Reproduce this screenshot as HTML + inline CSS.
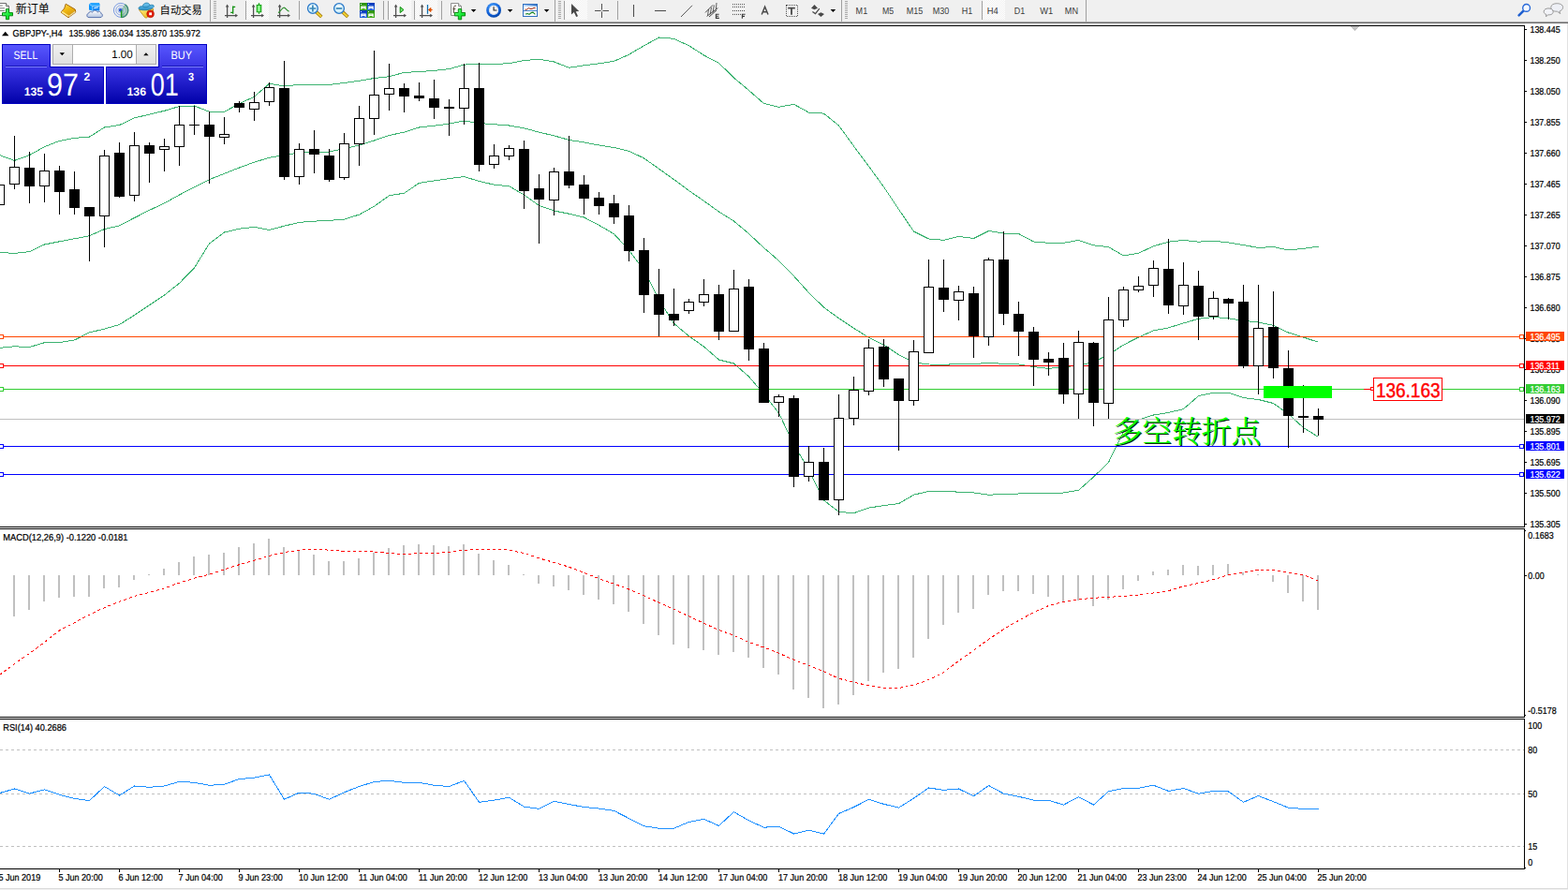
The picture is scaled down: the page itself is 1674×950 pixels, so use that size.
<!DOCTYPE html>
<html><head><meta charset="utf-8"><title>GBPJPY-,H4</title>
<style>
html,body{margin:0;padding:0;background:#fff}
body{width:1674px;height:950px;overflow:hidden;position:relative;font-family:"Liberation Sans",sans-serif;color:#000}
svg{position:absolute;left:0;top:0}
</style></head><body>

<svg width="1674" height="950" viewBox="0 0 1674 950" shape-rendering="crispEdges">
<rect x="0" y="0" width="1674" height="22" fill="#f0f0f0"/>
<rect x="0" y="22" width="1674" height="1" fill="#eeeeee"/>
<rect x="0" y="23" width="1674" height="1" fill="#a8a8a8"/>
<rect x="0" y="24" width="1674" height="1" fill="#696969"/>
<rect x="0" y="25" width="1674" height="2" fill="#ffffff"/>
<rect x="0" y="27" width="1628" height="1" fill="#000"/>
<rect x="1627" y="27" width="1" height="536" fill="#000"/>
<rect x="1627" y="564" width="1" height="202" fill="#000"/>
<rect x="1627" y="767" width="1" height="161" fill="#000"/>
<rect x="0" y="562" width="1628" height="1" fill="#000"/>
<rect x="0" y="564" width="1628" height="1" fill="#000"/>
<rect x="0" y="765" width="1628" height="1" fill="#000"/>
<rect x="0" y="767" width="1628" height="1" fill="#000"/>
<rect x="0" y="927" width="1628" height="1" fill="#000"/>
<rect x="1673" y="25" width="1" height="925" fill="#e2e2e2"/>
<rect x="0" y="948" width="1674" height="1" fill="#dadada"/>
<rect x="0" y="949" width="1674" height="1" fill="#f0f0f0"/>
<rect x="1628" y="926" width="1" height="1" fill="#000"/>
<polyline points="-0.5,165.6 15.5,171.4 31.5,165.6 47.5,156.7 63.5,150.4 79.5,147.4 95.5,146.1 111.5,136.0 127.5,133.5 143.5,125.9 159.5,122.1 175.5,118.3 191.5,113.5 207.5,113.0 223.5,119.3 239.5,119.3 255.5,110.7 271.5,103.2 287.5,89.3 303.5,91.8 319.5,90.5 335.5,90.5 351.5,90.5 367.5,88.5 383.5,86.2 399.5,83.5 415.5,81.7 431.5,77.4 447.5,76.6 463.5,75.4 479.5,73.6 495.5,69.1 511.5,68.3 527.5,68.3 543.5,67.8 559.5,64.5 575.5,63.2 591.5,66.0 607.5,72.3 623.5,69.8 639.5,67.8 655.5,65.3 671.5,58.2 687.5,48.8 703.5,40.0 719.5,41.3 735.5,48.8 751.5,59.0 767.5,67.3 783.5,83.0 799.5,96.5 815.5,110.5 831.5,114.3 847.5,111.3 863.5,120.1 879.5,121.1 895.5,134.0 911.5,156.0 927.5,177.5 943.5,199.5 959.5,223.5 975.5,247.0 991.5,255.0 1007.5,256.3 1023.5,252.5 1039.5,254.5 1055.5,246.5 1071.5,249.0 1087.5,249.5 1103.5,258.0 1119.5,259.3 1135.5,259.3 1151.5,256.4 1167.5,261.8 1183.5,263.7 1199.5,272.8 1215.5,270.3 1231.5,262.7 1247.5,258.2 1263.5,256.4 1279.5,258.2 1295.5,257.2 1311.5,258.9 1327.5,261.5 1343.5,264.5 1359.5,263.5 1375.5,267.0 1391.5,265.3 1407.5,263.2" fill="none" stroke="#3cb371" stroke-width="1" />
<polyline points="-0.5,269.4 15.5,270.4 31.5,268.6 47.5,261.0 63.5,257.8 79.5,254.8 95.5,251.7 111.5,244.6 127.5,240.9 143.5,232.5 159.5,224.4 175.5,216.9 191.5,208.0 207.5,199.7 223.5,191.6 239.5,185.3 255.5,179.0 271.5,173.1 287.5,168.3 303.5,165.6 319.5,163.0 335.5,162.0 351.5,162.0 367.5,158.7 383.5,155.0 399.5,150.0 415.5,144.5 431.5,141.1 447.5,136.0 463.5,134.2 479.5,132.2 495.5,128.9 511.5,131.5 527.5,132.7 543.5,134.0 559.5,136.8 575.5,141.1 591.5,144.9 607.5,149.4 623.5,151.9 639.5,155.0 655.5,157.5 671.5,161.3 687.5,168.9 703.5,180.2 719.5,191.6 735.5,203.5 751.5,214.5 767.5,226.0 783.5,236.0 799.5,249.5 815.5,264.5 831.5,278.3 847.5,294.7 863.5,312.4 879.5,328.1 895.5,339.7 911.5,350.3 927.5,360.4 943.5,368.0 959.5,378.6 975.5,387.0 991.5,389.0 1007.5,389.2 1023.5,388.7 1039.5,388.5 1055.5,387.5 1071.5,388.3 1087.5,389.0 1103.5,391.6 1119.5,393.4 1135.5,391.6 1151.5,390.3 1167.5,386.5 1183.5,378.5 1199.5,368.1 1215.5,360.0 1231.5,352.9 1247.5,349.9 1263.5,344.9 1279.5,340.3 1295.5,338.5 1311.5,339.8 1327.5,342.3 1343.5,344.1 1359.5,347.4 1375.5,355.0 1391.5,360.0 1407.5,365.3" fill="none" stroke="#3cb371" stroke-width="1" />
<polyline points="-0.5,371.3 15.5,369.8 31.5,370.5 47.5,365.7 63.5,365.5 79.5,363.0 95.5,354.9 111.5,351.1 127.5,346.5 143.5,336.4 159.5,325.6 175.5,315.0 191.5,302.3 207.5,285.9 223.5,259.9 239.5,248.0 255.5,244.2 271.5,242.4 287.5,245.5 303.5,241.2 319.5,237.4 335.5,236.1 351.5,235.4 367.5,234.1 383.5,229.1 399.5,220.2 415.5,208.8 431.5,206.2 447.5,195.4 463.5,192.9 479.5,190.6 495.5,188.6 511.5,193.4 527.5,197.2 543.5,198.7 559.5,208.0 575.5,219.4 591.5,225.0 607.5,228.2 623.5,232.0 639.5,240.4 655.5,249.7 671.5,267.0 687.5,288.4 703.5,320.0 719.5,345.2 735.5,358.8 751.5,370.0 767.5,384.0 783.5,388.0 799.5,402.0 815.5,420.6 831.5,441.0 847.5,474.7 863.5,501.5 879.5,534.0 895.5,546.4 911.5,547.7 927.5,542.1 943.5,539.6 959.5,537.6 975.5,528.2 991.5,524.4 1007.5,524.2 1023.5,525.2 1039.5,526.0 1055.5,528.2 1071.5,527.5 1087.5,527.0 1103.5,526.5 1119.5,527.0 1135.5,526.0 1151.5,523.3 1167.5,509.1 1183.5,493.5 1199.5,460.6 1215.5,448.0 1231.5,443.0 1247.5,440.4 1263.5,436.6 1279.5,422.6 1295.5,419.2 1311.5,419.2 1327.5,424.6 1343.5,426.5 1359.5,430.5 1375.5,441.9 1391.5,456.5 1407.5,466.4" fill="none" stroke="#3cb371" stroke-width="1" />
<rect x="0" y="359" width="1627" height="1" fill="#ff4500"/>
<rect x="0" y="390" width="1627" height="1" fill="#ff0000"/>
<rect x="0" y="415" width="1627" height="1" fill="#32cd32"/>
<rect x="0" y="447" width="1627" height="1" fill="#c0c0c0"/>
<rect x="0" y="476" width="1627" height="1" fill="#0000ff"/>
<rect x="0" y="506" width="1627" height="1" fill="#0000ff"/>
<rect x="-0.5" y="357.5" width="4" height="4" fill="#fff" stroke="#ff4500"/>
<rect x="1622.5" y="357.5" width="4" height="4" fill="#fff" stroke="#ff4500"/>
<rect x="-0.5" y="388.5" width="4" height="4" fill="#fff" stroke="#ff0000"/>
<rect x="1622.5" y="388.5" width="4" height="4" fill="#fff" stroke="#ff0000"/>
<rect x="-0.5" y="413.5" width="4" height="4" fill="#fff" stroke="#32cd32"/>
<rect x="1622.5" y="413.5" width="4" height="4" fill="#fff" stroke="#32cd32"/>
<rect x="-0.5" y="474.5" width="4" height="4" fill="#fff" stroke="#0000ff"/>
<rect x="1622.5" y="474.5" width="4" height="4" fill="#fff" stroke="#0000ff"/>
<rect x="-0.5" y="504.5" width="4" height="4" fill="#fff" stroke="#0000ff"/>
<rect x="1622.5" y="504.5" width="4" height="4" fill="#fff" stroke="#0000ff"/>
<rect x="-5.5" y="197.5" width="10" height="21" fill="#fff" stroke="#000"/>
<rect x="15" y="145" width="1" height="57" fill="#000"/>
<rect x="10.5" y="178.5" width="10" height="18" fill="#fff" stroke="#000"/>
<rect x="31" y="162" width="1" height="55" fill="#000"/>
<rect x="26" y="179" width="11" height="20" fill="#000"/>
<rect x="47" y="164" width="1" height="52" fill="#000"/>
<rect x="42.5" y="182.5" width="10" height="16" fill="#fff" stroke="#000"/>
<rect x="63" y="177" width="1" height="52" fill="#000"/>
<rect x="58" y="182" width="11" height="23" fill="#000"/>
<rect x="79" y="183" width="1" height="46" fill="#000"/>
<rect x="74" y="202" width="11" height="20" fill="#000"/>
<rect x="95" y="221" width="1" height="58" fill="#000"/>
<rect x="90" y="221" width="11" height="10" fill="#000"/>
<rect x="111" y="160" width="1" height="104" fill="#000"/>
<rect x="106.5" y="166.5" width="10" height="64" fill="#fff" stroke="#000"/>
<rect x="127" y="152" width="1" height="59" fill="#000"/>
<rect x="122" y="163" width="11" height="47" fill="#000"/>
<rect x="143" y="141" width="1" height="74" fill="#000"/>
<rect x="138.5" y="155.5" width="10" height="53" fill="#fff" stroke="#000"/>
<rect x="159" y="152" width="1" height="43" fill="#000"/>
<rect x="154" y="155" width="11" height="9" fill="#000"/>
<rect x="175" y="148" width="1" height="35" fill="#000"/>
<rect x="170.5" y="156.5" width="10" height="3" fill="#fff" stroke="#000"/>
<rect x="191" y="113" width="1" height="64" fill="#000"/>
<rect x="186.5" y="133.5" width="10" height="23" fill="#fff" stroke="#000"/>
<rect x="207" y="113" width="1" height="31" fill="#000"/>
<rect x="202" y="133" width="11" height="1" fill="#000"/>
<rect x="223" y="119" width="1" height="77" fill="#000"/>
<rect x="218" y="133" width="11" height="13" fill="#000"/>
<rect x="239" y="125" width="1" height="29" fill="#000"/>
<rect x="234.5" y="143.5" width="10" height="3" fill="#fff" stroke="#000"/>
<rect x="255" y="108" width="1" height="12" fill="#000"/>
<rect x="250" y="110" width="11" height="5" fill="#000"/>
<rect x="271" y="98" width="1" height="31" fill="#000"/>
<rect x="266.5" y="109.5" width="10" height="7" fill="#fff" stroke="#000"/>
<rect x="287" y="88" width="1" height="25" fill="#000"/>
<rect x="282.5" y="93.5" width="10" height="15" fill="#fff" stroke="#000"/>
<rect x="303" y="65" width="1" height="127" fill="#000"/>
<rect x="298" y="94" width="11" height="95" fill="#000"/>
<rect x="319" y="153" width="1" height="44" fill="#000"/>
<rect x="314.5" y="159.5" width="10" height="29" fill="#fff" stroke="#000"/>
<rect x="335" y="139" width="1" height="46" fill="#000"/>
<rect x="330" y="159" width="11" height="6" fill="#000"/>
<rect x="351" y="159" width="1" height="35" fill="#000"/>
<rect x="346" y="166" width="11" height="26" fill="#000"/>
<rect x="367" y="142" width="1" height="50" fill="#000"/>
<rect x="362.5" y="153.5" width="10" height="36" fill="#fff" stroke="#000"/>
<rect x="383" y="113" width="1" height="64" fill="#000"/>
<rect x="378.5" y="126.5" width="10" height="27" fill="#fff" stroke="#000"/>
<rect x="399" y="54" width="1" height="90" fill="#000"/>
<rect x="394.5" y="101.5" width="10" height="25" fill="#fff" stroke="#000"/>
<rect x="415" y="68" width="1" height="50" fill="#000"/>
<rect x="410.5" y="94.5" width="10" height="6" fill="#fff" stroke="#000"/>
<rect x="431" y="89" width="1" height="31" fill="#000"/>
<rect x="426" y="94" width="11" height="9" fill="#000"/>
<rect x="447" y="88" width="1" height="20" fill="#000"/>
<rect x="442" y="102" width="11" height="3" fill="#000"/>
<rect x="463" y="85" width="1" height="42" fill="#000"/>
<rect x="458" y="105" width="11" height="10" fill="#000"/>
<rect x="479" y="106" width="1" height="39" fill="#000"/>
<rect x="474" y="114" width="11" height="2" fill="#000"/>
<rect x="495" y="68" width="1" height="65" fill="#000"/>
<rect x="490.5" y="94.5" width="10" height="21" fill="#fff" stroke="#000"/>
<rect x="511" y="67" width="1" height="116" fill="#000"/>
<rect x="506" y="94" width="11" height="82" fill="#000"/>
<rect x="527" y="154" width="1" height="26" fill="#000"/>
<rect x="522.5" y="166.5" width="10" height="9" fill="#fff" stroke="#000"/>
<rect x="543" y="155" width="1" height="16" fill="#000"/>
<rect x="538.5" y="158.5" width="10" height="8" fill="#fff" stroke="#000"/>
<rect x="559" y="150" width="1" height="73" fill="#000"/>
<rect x="554" y="159" width="11" height="45" fill="#000"/>
<rect x="575" y="186" width="1" height="74" fill="#000"/>
<rect x="570" y="201" width="11" height="12" fill="#000"/>
<rect x="591" y="179" width="1" height="51" fill="#000"/>
<rect x="586.5" y="183.5" width="10" height="30" fill="#fff" stroke="#000"/>
<rect x="607" y="145" width="1" height="56" fill="#000"/>
<rect x="602" y="183" width="11" height="15" fill="#000"/>
<rect x="623" y="187" width="1" height="42" fill="#000"/>
<rect x="618" y="197" width="11" height="15" fill="#000"/>
<rect x="639" y="205" width="1" height="24" fill="#000"/>
<rect x="634" y="211" width="11" height="9" fill="#000"/>
<rect x="655" y="208" width="1" height="31" fill="#000"/>
<rect x="650" y="217" width="11" height="15" fill="#000"/>
<rect x="671" y="219" width="1" height="60" fill="#000"/>
<rect x="666" y="230" width="11" height="38" fill="#000"/>
<rect x="687" y="254" width="1" height="80" fill="#000"/>
<rect x="682" y="267" width="11" height="48" fill="#000"/>
<rect x="703" y="287" width="1" height="72" fill="#000"/>
<rect x="698" y="314" width="11" height="22" fill="#000"/>
<rect x="719" y="308" width="1" height="40" fill="#000"/>
<rect x="714" y="335" width="11" height="7" fill="#000"/>
<rect x="735" y="319" width="1" height="16" fill="#000"/>
<rect x="730.5" y="322.5" width="10" height="9" fill="#fff" stroke="#000"/>
<rect x="751" y="298" width="1" height="29" fill="#000"/>
<rect x="746.5" y="314.5" width="10" height="8" fill="#fff" stroke="#000"/>
<rect x="767" y="304" width="1" height="59" fill="#000"/>
<rect x="762" y="314" width="11" height="40" fill="#000"/>
<rect x="783" y="288" width="1" height="66" fill="#000"/>
<rect x="778.5" y="308.5" width="10" height="45" fill="#fff" stroke="#000"/>
<rect x="799" y="298" width="1" height="87" fill="#000"/>
<rect x="794" y="306" width="11" height="67" fill="#000"/>
<rect x="815" y="366" width="1" height="64" fill="#000"/>
<rect x="810" y="372" width="11" height="58" fill="#000"/>
<rect x="831" y="421" width="1" height="24" fill="#000"/>
<rect x="826.5" y="423.5" width="10" height="6" fill="#fff" stroke="#000"/>
<rect x="847" y="422" width="1" height="98" fill="#000"/>
<rect x="842" y="425" width="11" height="84" fill="#000"/>
<rect x="863" y="476" width="1" height="38" fill="#000"/>
<rect x="858.5" y="493.5" width="10" height="15" fill="#fff" stroke="#000"/>
<rect x="879" y="478" width="1" height="56" fill="#000"/>
<rect x="874" y="493" width="11" height="41" fill="#000"/>
<rect x="895" y="421" width="1" height="129" fill="#000"/>
<rect x="890.5" y="446.5" width="10" height="87" fill="#fff" stroke="#000"/>
<rect x="911" y="402" width="1" height="52" fill="#000"/>
<rect x="906.5" y="416.5" width="10" height="30" fill="#fff" stroke="#000"/>
<rect x="927" y="362" width="1" height="60" fill="#000"/>
<rect x="922.5" y="371.5" width="10" height="46" fill="#fff" stroke="#000"/>
<rect x="943" y="362" width="1" height="51" fill="#000"/>
<rect x="938" y="370" width="11" height="35" fill="#000"/>
<rect x="959" y="404" width="1" height="77" fill="#000"/>
<rect x="954" y="404" width="11" height="24" fill="#000"/>
<rect x="975" y="363" width="1" height="70" fill="#000"/>
<rect x="970.5" y="375.5" width="10" height="52" fill="#fff" stroke="#000"/>
<rect x="991" y="277" width="1" height="100" fill="#000"/>
<rect x="986.5" y="306.5" width="10" height="70" fill="#fff" stroke="#000"/>
<rect x="1007" y="277" width="1" height="56" fill="#000"/>
<rect x="1002" y="307" width="11" height="13" fill="#000"/>
<rect x="1023" y="305" width="1" height="37" fill="#000"/>
<rect x="1018.5" y="311.5" width="10" height="9" fill="#fff" stroke="#000"/>
<rect x="1039" y="306" width="1" height="76" fill="#000"/>
<rect x="1034" y="313" width="11" height="46" fill="#000"/>
<rect x="1055" y="275" width="1" height="94" fill="#000"/>
<rect x="1050.5" y="277.5" width="10" height="82" fill="#fff" stroke="#000"/>
<rect x="1071" y="247" width="1" height="100" fill="#000"/>
<rect x="1066" y="277" width="11" height="58" fill="#000"/>
<rect x="1087" y="322" width="1" height="58" fill="#000"/>
<rect x="1082" y="335" width="11" height="19" fill="#000"/>
<rect x="1103" y="349" width="1" height="63" fill="#000"/>
<rect x="1098" y="354" width="11" height="30" fill="#000"/>
<rect x="1119" y="376" width="1" height="25" fill="#000"/>
<rect x="1114" y="383" width="11" height="4" fill="#000"/>
<rect x="1135" y="366" width="1" height="65" fill="#000"/>
<rect x="1130" y="382" width="11" height="39" fill="#000"/>
<rect x="1151" y="353" width="1" height="94" fill="#000"/>
<rect x="1146.5" y="365.5" width="10" height="55" fill="#fff" stroke="#000"/>
<rect x="1167" y="365" width="1" height="90" fill="#000"/>
<rect x="1162" y="366" width="11" height="64" fill="#000"/>
<rect x="1183" y="317" width="1" height="130" fill="#000"/>
<rect x="1178.5" y="341.5" width="10" height="89" fill="#fff" stroke="#000"/>
<rect x="1199" y="306" width="1" height="43" fill="#000"/>
<rect x="1194.5" y="309.5" width="10" height="32" fill="#fff" stroke="#000"/>
<rect x="1215" y="295" width="1" height="17" fill="#000"/>
<rect x="1210.5" y="305.5" width="10" height="4" fill="#fff" stroke="#000"/>
<rect x="1231" y="278" width="1" height="39" fill="#000"/>
<rect x="1226.5" y="286.5" width="10" height="18" fill="#fff" stroke="#000"/>
<rect x="1247" y="255" width="1" height="80" fill="#000"/>
<rect x="1242" y="287" width="11" height="39" fill="#000"/>
<rect x="1263" y="280" width="1" height="56" fill="#000"/>
<rect x="1258.5" y="304.5" width="10" height="22" fill="#fff" stroke="#000"/>
<rect x="1279" y="289" width="1" height="74" fill="#000"/>
<rect x="1274" y="305" width="11" height="33" fill="#000"/>
<rect x="1295" y="311" width="1" height="30" fill="#000"/>
<rect x="1290.5" y="318.5" width="10" height="19" fill="#fff" stroke="#000"/>
<rect x="1311" y="318" width="1" height="23" fill="#000"/>
<rect x="1306" y="319" width="11" height="5" fill="#000"/>
<rect x="1327" y="304" width="1" height="89" fill="#000"/>
<rect x="1322" y="322" width="11" height="69" fill="#000"/>
<rect x="1343" y="304" width="1" height="117" fill="#000"/>
<rect x="1338.5" y="350.5" width="10" height="40" fill="#fff" stroke="#000"/>
<rect x="1359" y="311" width="1" height="93" fill="#000"/>
<rect x="1354" y="349" width="11" height="44" fill="#000"/>
<rect x="1375" y="374" width="1" height="104" fill="#000"/>
<rect x="1370" y="393" width="11" height="51" fill="#000"/>
<rect x="1391" y="411" width="1" height="51" fill="#000"/>
<rect x="1386" y="444" width="11" height="2" fill="#000"/>
<rect x="1407" y="436" width="1" height="29" fill="#000"/>
<rect x="1402" y="444" width="11" height="4" fill="#000"/>
<rect x="1442" y="28" width="9" height="1" fill="#c0c0c0"/>
<rect x="1443" y="29" width="7" height="1" fill="#c0c0c0"/>
<rect x="1444" y="30" width="5" height="1" fill="#c0c0c0"/>
<rect x="1445" y="31" width="3" height="1" fill="#c0c0c0"/>
<rect x="1446" y="32" width="1" height="1" fill="#c0c0c0"/>
<rect x="1349" y="412" width="73" height="13" fill="#00ff00"/>
<rect x="1456" y="415" width="8" height="1" fill="#ff0000"/>
<rect x="1463.5" y="413.5" width="3" height="3" fill="#fff" stroke="#ff0000"/>
<rect x="1466.5" y="403.5" width="73" height="24" fill="#fff" stroke="#ff0000"/>
<rect x="1628" y="31" width="2" height="1" fill="#000"/>
<rect x="1628" y="64" width="2" height="1" fill="#000"/>
<rect x="1628" y="97" width="2" height="1" fill="#000"/>
<rect x="1628" y="130" width="2" height="1" fill="#000"/>
<rect x="1628" y="163" width="2" height="1" fill="#000"/>
<rect x="1628" y="196" width="2" height="1" fill="#000"/>
<rect x="1628" y="229" width="2" height="1" fill="#000"/>
<rect x="1628" y="262" width="2" height="1" fill="#000"/>
<rect x="1628" y="295" width="2" height="1" fill="#000"/>
<rect x="1628" y="328" width="2" height="1" fill="#000"/>
<rect x="1628" y="361" width="2" height="1" fill="#000"/>
<rect x="1628" y="394" width="2" height="1" fill="#000"/>
<rect x="1628" y="427" width="2" height="1" fill="#000"/>
<rect x="1628" y="460" width="2" height="1" fill="#000"/>
<rect x="1628" y="493" width="2" height="1" fill="#000"/>
<rect x="1628" y="526" width="2" height="1" fill="#000"/>
<rect x="1628" y="559" width="2" height="1" fill="#000"/>
<rect x="14" y="614" width="2" height="44" fill="#c0c0c0"/>
<rect x="30" y="614" width="2" height="37" fill="#c0c0c0"/>
<rect x="46" y="614" width="2" height="28" fill="#c0c0c0"/>
<rect x="62" y="614" width="2" height="24" fill="#c0c0c0"/>
<rect x="78" y="614" width="2" height="23" fill="#c0c0c0"/>
<rect x="94" y="614" width="2" height="23" fill="#c0c0c0"/>
<rect x="110" y="614" width="2" height="14" fill="#c0c0c0"/>
<rect x="126" y="614" width="2" height="13" fill="#c0c0c0"/>
<rect x="142" y="614" width="2" height="5" fill="#c0c0c0"/>
<rect x="158" y="613" width="2" height="1" fill="#c0c0c0"/>
<rect x="174" y="607" width="2" height="7" fill="#c0c0c0"/>
<rect x="190" y="600" width="2" height="14" fill="#c0c0c0"/>
<rect x="206" y="594" width="2" height="20" fill="#c0c0c0"/>
<rect x="222" y="592" width="2" height="22" fill="#c0c0c0"/>
<rect x="238" y="590" width="2" height="24" fill="#c0c0c0"/>
<rect x="254" y="584" width="2" height="30" fill="#c0c0c0"/>
<rect x="270" y="580" width="2" height="34" fill="#c0c0c0"/>
<rect x="286" y="575" width="2" height="39" fill="#c0c0c0"/>
<rect x="302" y="584" width="2" height="30" fill="#c0c0c0"/>
<rect x="318" y="588" width="2" height="26" fill="#c0c0c0"/>
<rect x="334" y="592" width="2" height="22" fill="#c0c0c0"/>
<rect x="350" y="599" width="2" height="15" fill="#c0c0c0"/>
<rect x="366" y="599" width="2" height="15" fill="#c0c0c0"/>
<rect x="382" y="596" width="2" height="18" fill="#c0c0c0"/>
<rect x="398" y="590" width="2" height="24" fill="#c0c0c0"/>
<rect x="414" y="585" width="2" height="29" fill="#c0c0c0"/>
<rect x="430" y="582" width="2" height="32" fill="#c0c0c0"/>
<rect x="446" y="581" width="2" height="33" fill="#c0c0c0"/>
<rect x="462" y="582" width="2" height="32" fill="#c0c0c0"/>
<rect x="478" y="583" width="2" height="31" fill="#c0c0c0"/>
<rect x="494" y="581" width="2" height="33" fill="#c0c0c0"/>
<rect x="510" y="591" width="2" height="23" fill="#c0c0c0"/>
<rect x="526" y="598" width="2" height="16" fill="#c0c0c0"/>
<rect x="542" y="603" width="2" height="11" fill="#c0c0c0"/>
<rect x="558" y="613" width="2" height="1" fill="#c0c0c0"/>
<rect x="574" y="614" width="2" height="9" fill="#c0c0c0"/>
<rect x="590" y="614" width="2" height="12" fill="#c0c0c0"/>
<rect x="606" y="614" width="2" height="16" fill="#c0c0c0"/>
<rect x="622" y="614" width="2" height="21" fill="#c0c0c0"/>
<rect x="638" y="614" width="2" height="26" fill="#c0c0c0"/>
<rect x="654" y="614" width="2" height="31" fill="#c0c0c0"/>
<rect x="670" y="614" width="2" height="39" fill="#c0c0c0"/>
<rect x="686" y="614" width="2" height="52" fill="#c0c0c0"/>
<rect x="702" y="614" width="2" height="64" fill="#c0c0c0"/>
<rect x="718" y="614" width="2" height="74" fill="#c0c0c0"/>
<rect x="734" y="614" width="2" height="78" fill="#c0c0c0"/>
<rect x="750" y="614" width="2" height="80" fill="#c0c0c0"/>
<rect x="766" y="614" width="2" height="85" fill="#c0c0c0"/>
<rect x="782" y="614" width="2" height="82" fill="#c0c0c0"/>
<rect x="798" y="614" width="2" height="88" fill="#c0c0c0"/>
<rect x="814" y="614" width="2" height="99" fill="#c0c0c0"/>
<rect x="830" y="614" width="2" height="106" fill="#c0c0c0"/>
<rect x="846" y="614" width="2" height="122" fill="#c0c0c0"/>
<rect x="862" y="614" width="2" height="131" fill="#c0c0c0"/>
<rect x="878" y="614" width="2" height="142" fill="#c0c0c0"/>
<rect x="894" y="614" width="2" height="138" fill="#c0c0c0"/>
<rect x="910" y="614" width="2" height="128" fill="#c0c0c0"/>
<rect x="926" y="614" width="2" height="113" fill="#c0c0c0"/>
<rect x="942" y="614" width="2" height="104" fill="#c0c0c0"/>
<rect x="958" y="614" width="2" height="100" fill="#c0c0c0"/>
<rect x="974" y="614" width="2" height="88" fill="#c0c0c0"/>
<rect x="990" y="614" width="2" height="68" fill="#c0c0c0"/>
<rect x="1006" y="614" width="2" height="53" fill="#c0c0c0"/>
<rect x="1022" y="614" width="2" height="40" fill="#c0c0c0"/>
<rect x="1038" y="614" width="2" height="36" fill="#c0c0c0"/>
<rect x="1054" y="614" width="2" height="21" fill="#c0c0c0"/>
<rect x="1070" y="614" width="2" height="17" fill="#c0c0c0"/>
<rect x="1086" y="614" width="2" height="17" fill="#c0c0c0"/>
<rect x="1102" y="614" width="2" height="20" fill="#c0c0c0"/>
<rect x="1118" y="614" width="2" height="23" fill="#c0c0c0"/>
<rect x="1134" y="614" width="2" height="28" fill="#c0c0c0"/>
<rect x="1150" y="614" width="2" height="27" fill="#c0c0c0"/>
<rect x="1166" y="614" width="2" height="33" fill="#c0c0c0"/>
<rect x="1182" y="614" width="2" height="26" fill="#c0c0c0"/>
<rect x="1198" y="614" width="2" height="15" fill="#c0c0c0"/>
<rect x="1214" y="614" width="2" height="6" fill="#c0c0c0"/>
<rect x="1230" y="610" width="2" height="4" fill="#c0c0c0"/>
<rect x="1246" y="608" width="2" height="6" fill="#c0c0c0"/>
<rect x="1262" y="603" width="2" height="11" fill="#c0c0c0"/>
<rect x="1278" y="604" width="2" height="10" fill="#c0c0c0"/>
<rect x="1294" y="603" width="2" height="11" fill="#c0c0c0"/>
<rect x="1310" y="602" width="2" height="12" fill="#c0c0c0"/>
<rect x="1326" y="611" width="2" height="3" fill="#c0c0c0"/>
<rect x="1342" y="613" width="2" height="1" fill="#c0c0c0"/>
<rect x="1358" y="614" width="2" height="7" fill="#c0c0c0"/>
<rect x="1374" y="614" width="2" height="19" fill="#c0c0c0"/>
<rect x="1390" y="614" width="2" height="28" fill="#c0c0c0"/>
<rect x="1406" y="614" width="2" height="37" fill="#c0c0c0"/>
<polyline points="-0.5,720.6 15.5,708.5 31.5,697.5 47.5,685.5 63.5,672.9 79.5,664.6 95.5,656.1 111.5,648.6 127.5,642.3 143.5,636.5 159.5,632.3 175.5,627.8 191.5,622.2 207.5,617.2 223.5,613.2 239.5,607.7 255.5,602.7 271.5,598.2 287.5,593.4 303.5,589.6 319.5,587.1 335.5,586.4 351.5,587.1 367.5,588.4 383.5,588.4 399.5,588.9 415.5,590.6 431.5,591.6 447.5,590.6 463.5,590.6 479.5,589.4 495.5,587.1 511.5,586.6 527.5,586.6 543.5,587.1 559.5,590.6 575.5,595.9 591.5,600.4 607.5,605.2 623.5,611.4 639.5,617.7 655.5,623.2 671.5,629.0 687.5,635.8 703.5,643.3 719.5,650.3 735.5,657.9 751.5,665.4 767.5,672.4 783.5,678.4 799.5,685.5 815.5,691.0 831.5,697.2 847.5,704.3 863.5,710.5 879.5,716.8 895.5,724.3 911.5,728.1 927.5,731.9 943.5,734.1 959.5,734.4 975.5,731.4 991.5,725.6 1007.5,717.6 1023.5,705.5 1039.5,694.2 1055.5,682.4 1071.5,671.7 1087.5,662.4 1103.5,653.6 1119.5,646.6 1135.5,642.3 1151.5,639.8 1167.5,638.3 1183.5,637.3 1199.5,636.5 1215.5,635.2 1231.5,632.9 1247.5,630.6 1263.5,625.8 1279.5,622.4 1295.5,618.7 1311.5,613.6 1327.5,610.8 1343.5,608.2 1359.5,608.2 1375.5,611.6 1391.5,613.6 1407.5,620.1" fill="none" stroke="#ff0000" stroke-width="1" stroke-dasharray="3 3"/>
<rect x="1628" y="566" width="1" height="1" fill="#000"/>
<rect x="1628" y="614" width="2" height="1" fill="#000"/>
<rect x="1628" y="763" width="1" height="1" fill="#000"/>
<line x1="0" y1="800.5" x2="1627" y2="800.5" stroke="#c0c0c0" stroke-dasharray="3 3"/>
<line x1="0" y1="847.5" x2="1627" y2="847.5" stroke="#c0c0c0" stroke-dasharray="3 3"/>
<line x1="0" y1="903.5" x2="1627" y2="903.5" stroke="#c0c0c0" stroke-dasharray="3 3"/>
<polyline points="-0.5,846.6 15.5,842.0 31.5,847.1 47.5,842.8 63.5,848.3 79.5,852.3 95.5,854.6 111.5,839.5 127.5,849.1 143.5,839.0 159.5,840.3 175.5,839.0 191.5,834.3 207.5,835.3 223.5,838.3 239.5,837.3 255.5,831.5 271.5,830.2 287.5,827.0 303.5,853.3 319.5,846.1 335.5,847.3 351.5,853.3 367.5,845.8 383.5,839.5 399.5,834.5 415.5,833.3 431.5,835.3 447.5,835.3 463.5,838.3 479.5,839.5 495.5,833.3 511.5,856.3 527.5,854.1 543.5,851.3 559.5,861.1 575.5,863.4 591.5,855.3 607.5,858.6 623.5,861.4 639.5,863.1 655.5,865.4 671.5,873.6 687.5,881.7 703.5,884.2 719.5,884.2 735.5,877.4 751.5,874.4 767.5,881.4 783.5,866.6 799.5,875.9 815.5,883.2 831.5,882.2 847.5,890.0 863.5,886.2 879.5,890.2 895.5,868.4 911.5,861.6 927.5,853.3 943.5,858.3 959.5,862.1 975.5,852.1 991.5,841.0 1007.5,843.3 1023.5,842.0 1039.5,849.8 1055.5,838.5 1071.5,847.1 1087.5,850.3 1103.5,854.1 1119.5,854.3 1135.5,859.1 1151.5,850.6 1167.5,859.1 1183.5,844.8 1199.5,841.5 1215.5,841.3 1231.5,838.2 1247.5,844.4 1263.5,841.5 1279.5,847.2 1295.5,844.4 1311.5,844.9 1327.5,856.3 1343.5,849.5 1359.5,855.7 1375.5,862.2 1391.5,863.4 1407.5,863.4" fill="none" stroke="#1e90ff" stroke-width="1" />
<rect x="-1" y="927" width="1" height="4" fill="#000"/>
<rect x="63" y="927" width="1" height="4" fill="#000"/>
<rect x="127" y="927" width="1" height="4" fill="#000"/>
<rect x="191" y="927" width="1" height="4" fill="#000"/>
<rect x="255" y="927" width="1" height="4" fill="#000"/>
<rect x="319" y="927" width="1" height="4" fill="#000"/>
<rect x="383" y="927" width="1" height="4" fill="#000"/>
<rect x="447" y="927" width="1" height="4" fill="#000"/>
<rect x="511" y="927" width="1" height="4" fill="#000"/>
<rect x="575" y="927" width="1" height="4" fill="#000"/>
<rect x="639" y="927" width="1" height="4" fill="#000"/>
<rect x="703" y="927" width="1" height="4" fill="#000"/>
<rect x="767" y="927" width="1" height="4" fill="#000"/>
<rect x="831" y="927" width="1" height="4" fill="#000"/>
<rect x="895" y="927" width="1" height="4" fill="#000"/>
<rect x="959" y="927" width="1" height="4" fill="#000"/>
<rect x="1023" y="927" width="1" height="4" fill="#000"/>
<rect x="1087" y="927" width="1" height="4" fill="#000"/>
<rect x="1151" y="927" width="1" height="4" fill="#000"/>
<rect x="1215" y="927" width="1" height="4" fill="#000"/>
<rect x="1279" y="927" width="1" height="4" fill="#000"/>
<rect x="1343" y="927" width="1" height="4" fill="#000"/>
<rect x="1407" y="927" width="1" height="4" fill="#000"/>
</svg>
<svg width="1674" height="950" viewBox="0 0 1674 950">
<text x="1188" y="472" font-family="'Liberation Serif', 'Noto Serif CJK SC', serif" font-size="32" fill="#062c06" transform="translate(1.2,1.2)" textLength="158" lengthAdjust="spacingAndGlyphs">多空转折点</text>
<text x="1188" y="472" font-family="'Liberation Serif', 'Noto Serif CJK SC', serif" font-size="32" fill="#00ff00" textLength="158" lengthAdjust="spacingAndGlyphs">多空转折点</text>
<text x="16.8" y="14.4" font-family="'Liberation Sans', 'Noto Sans CJK SC', sans-serif" font-size="12" fill="#000">新订单</text>
<text x="170.6" y="14.6" font-family="'Liberation Sans', 'Noto Sans CJK SC', sans-serif" font-size="11.3" fill="#000">自动交易</text>
<defs>
<linearGradient id="gPlus" x1="0" y1="0" x2="1" y2="1"><stop offset="0" stop-color="#8cff9c"/><stop offset="0.5" stop-color="#1cf03c"/><stop offset="1" stop-color="#00c018"/></linearGradient>
<linearGradient id="gGold" x1="0" y1="0" x2="0.6" y2="1"><stop offset="0" stop-color="#ffe060"/><stop offset="0.5" stop-color="#f0b810"/><stop offset="1" stop-color="#d09010"/></linearGradient>
<linearGradient id="gCloud" x1="0" y1="0" x2="0" y2="1"><stop offset="0" stop-color="#ffffff"/><stop offset="1" stop-color="#b4c4e0"/></linearGradient>
<linearGradient id="gCube" x1="0" y1="0" x2="1" y2="1"><stop offset="0" stop-color="#10a8ff"/><stop offset="1" stop-color="#1070e8"/></linearGradient>
<radialGradient id="gLens" cx="0.5" cy="0.35" r="0.7"><stop offset="0" stop-color="#f4fcff"/><stop offset="1" stop-color="#bfe8f8"/></radialGradient>
<linearGradient id="gHat" x1="0" y1="0" x2="0" y2="1"><stop offset="0" stop-color="#78c8f0"/><stop offset="1" stop-color="#2890c8"/></linearGradient>
<linearGradient id="gFace" x1="0" y1="0" x2="1" y2="1"><stop offset="0" stop-color="#fff080"/><stop offset="1" stop-color="#e8b010"/></linearGradient>
<radialGradient id="gClock" cx="0.4" cy="0.3" r="0.8"><stop offset="0" stop-color="#50a8ff"/><stop offset="0.6" stop-color="#1060d8"/><stop offset="1" stop-color="#003890"/></radialGradient>
<linearGradient id="gGreenQ" x1="0" y1="0" x2="0" y2="1"><stop offset="0" stop-color="#2a9010"/><stop offset="1" stop-color="#48b020"/></linearGradient>
<linearGradient id="gBlueQ" x1="0" y1="0" x2="0" y2="1"><stop offset="0" stop-color="#0838b8"/><stop offset="1" stop-color="#2868e0"/></linearGradient>
<linearGradient id="gTpl" x1="0" y1="0" x2="1" y2="0"><stop offset="0" stop-color="#b8d8ff"/><stop offset="1" stop-color="#3878c8"/></linearGradient>
<linearGradient id="gCandle" x1="0" y1="0" x2="1" y2="0"><stop offset="0" stop-color="#50e850"/><stop offset="0.5" stop-color="#a0ffa0"/><stop offset="1" stop-color="#30d830"/></linearGradient>
<radialGradient id="gSig" cx="0.5" cy="0.5" r="0.5"><stop offset="0" stop-color="#c8e8c0"/><stop offset="0.8" stop-color="#58b058"/><stop offset="1" stop-color="#2a9030"/></radialGradient>
<pattern id="chk" width="2" height="2" patternUnits="userSpaceOnUse"><rect width="2" height="2" fill="#f0f0f0"/><rect width="1" height="1" fill="#fff"/><rect x="1" y="1" width="1" height="1" fill="#fff"/></pattern>
<linearGradient id="gPanel" x1="0" y1="0" x2="0" y2="1"><stop offset="0" stop-color="#5454fc"/><stop offset="0.38" stop-color="#3c34e4"/><stop offset="1" stop-color="#0404ac"/></linearGradient>
<linearGradient id="gBtn" x1="0" y1="0" x2="0" y2="1"><stop offset="0" stop-color="#f0f0f0"/><stop offset="1" stop-color="#e0e0e0"/></linearGradient>
</defs>
<path d="M-1 3.5 H6.5 L9.5 6.5 V16.5 H-1Z" fill="#fff" stroke="#707070"/>
<path d="M6.5 3.5 V6.5 H9.5" fill="#e8e8e8" stroke="#707070"/>
<path d="M0 6 H2.8 M0 8.7 H5 M0 11.5 H4.8" stroke="#808080" stroke-width="1.1"/>
<path d="M6.4 9.7 L9.6 9.7 L9.6 13.6 L13.5 13.6 L13.5 16.8 L9.6 16.8 L9.6 20.7 L6.4 20.7 L6.4 16.8 L2.5 16.8 L2.5 13.6 L6.4 13.6Z" fill="url(#gPlus)" stroke="#088a10" stroke-width="1"/>
<path d="M70.2 4.2 L80.2 10 L80.8 13 L73 18.8 L65 13 L68.7 9Z" fill="url(#gGold)" stroke="#a86c10" stroke-width="1"/>
<path d="M65.8 12.4 L73.2 17.4" fill="none" stroke="#ffe88c" stroke-width="1.5"/>
<path d="M73.6 17.6 L80.3 12.4" fill="none" stroke="#efe4b8" stroke-width="1.3"/>
<path d="M73.6 17.9 L80.5 12.8" fill="none" stroke="#b07818" stroke-width="0.5" stroke-dasharray="1 1"/>
<path d="M95 4.3 L98.2 3 H105.6 L106.3 4 V11.6 H98.6 L95 10.2Z" fill="#1286f4"/>
<path d="M95 4.3 L98.2 3 H105.6 L106.3 4.4 L106.3 6.4 H98.7Z" fill="#2aa6ff"/>
<path d="M95 4.3 L98.7 6.4 V11.6 L95 10.2Z" fill="#0c94fc"/>
<path d="M95.2 4.5 L98.7 6.5 V11.4 M98.7 6.5 H106.2" fill="none" stroke="#b8e6ff" stroke-width="0.7"/>
<path d="M100.4 8.6 L104.8 7.7" stroke="#e6f6ff" stroke-width="1.1"/>
<path d="M95 18.6 C92.2 18.6 92.2 14.6 94.6 14.2 C94.8 12.4 97.6 12 98.6 13.2 C99.4 10.6 103.4 10.6 104 13.2 C105.4 11.6 108 12.4 107.8 14.4 C110.2 14.8 109.8 18.6 107 18.6 Z" fill="url(#gCloud)" stroke="#4a66a6" stroke-width="0.9"/>
<path d="M129.4 10.9 L129.4 18.8 A7.9 7.9 0 0 0 133.4 4.4 Z" fill="url(#gSig)" opacity="0.62"/>
<circle cx="128.9" cy="10.9" r="7.5" fill="none" stroke="#4a78d8" stroke-width="1" opacity="0.7"/>
<circle cx="128.9" cy="10.9" r="5.1" fill="none" stroke="#4a78d8" stroke-width="1" opacity="0.6"/>
<circle cx="128.9" cy="10.9" r="2.9" fill="none" stroke="#4a78d8" stroke-width="0.9" opacity="0.5"/>
<path d="M133.6 4.6 A7.8 7.8 0 0 1 129.6 18.7" fill="none" stroke="#2f7f5c" stroke-width="1.1" opacity="0.9"/>
<circle cx="128.7" cy="10.8" r="1.9" fill="#2858d0"/>
<path d="M129.5 11.2 V18.8" stroke="#18a018" stroke-width="1.3"/>
<path d="M148.4 10.4 L163.8 9.6 L163.2 12 L156.4 19.2 L154.6 18.6 Z" fill="url(#gFace)" stroke="#c08a10" stroke-width="0.8"/>
<path d="M148 8.6 C148.6 6.4 152 6.6 152.4 6.8 C152.6 2.2 159.6 2 159.8 5.6 C161.6 5 164.4 5 164.3 6.6 C164 9.4 158 10.8 154.6 10.8 C151 10.8 147.6 10.4 148 8.6Z" fill="url(#gHat)" stroke="#1c78a8" stroke-width="0.8"/>
<path d="M152.6 7 C154.4 8.4 158 8 159.8 5.8" fill="none" stroke="#1c78a8" stroke-width="0.7"/>
<circle cx="160.6" cy="14.8" r="3.9" fill="#e02008" stroke="#b01000" stroke-width="0.6"/>
<rect x="159.2" y="13.4" width="2.8" height="2.8" fill="#fff"/>
<rect x="224" y="0" width="1" height="23" fill="#a0a0a0" shape-rendering="crispEdges"/>
<rect x="228" y="1" width="3" height="1" fill="#a8a8a8" shape-rendering="crispEdges"/><rect x="228" y="3" width="3" height="1" fill="#a8a8a8" shape-rendering="crispEdges"/><rect x="228" y="5" width="3" height="1" fill="#a8a8a8" shape-rendering="crispEdges"/><rect x="228" y="7" width="3" height="1" fill="#a8a8a8" shape-rendering="crispEdges"/><rect x="228" y="9" width="3" height="1" fill="#a8a8a8" shape-rendering="crispEdges"/><rect x="228" y="11" width="3" height="1" fill="#a8a8a8" shape-rendering="crispEdges"/><rect x="228" y="13" width="3" height="1" fill="#a8a8a8" shape-rendering="crispEdges"/><rect x="228" y="15" width="3" height="1" fill="#a8a8a8" shape-rendering="crispEdges"/><rect x="228" y="17" width="3" height="1" fill="#a8a8a8" shape-rendering="crispEdges"/><rect x="228" y="19" width="3" height="1" fill="#a8a8a8" shape-rendering="crispEdges"/>
<path d="M242.6 6 V19 M240 16.6 H252.5" stroke="#505050" stroke-width="1.3" fill="none"/><path d="M242.6 4.6 L244.4 7.4 L240.8 7.4Z M254 16.6 L251.2 14.8 L251.2 18.4Z" fill="#505050"/>
<path d="M248.7 6.5 V14.8 M246.2 13.4 H248.7 M248.7 7.4 H251.2" stroke="#109010" stroke-width="1.3" fill="none"/>
<rect x="262" y="1" width="1" height="20" fill="#a0a0a0" shape-rendering="crispEdges"/>
<rect x="263" y="0" width="24" height="21" fill="url(#chk)" shape-rendering="crispEdges"/>
<path d="M270.6 6 V19 M268 16.6 H280.5" stroke="#505050" stroke-width="1.3" fill="none"/><path d="M270.6 4.6 L272.4 7.4 L268.8 7.4Z M282 16.6 L279.2 14.8 L279.2 18.4Z" fill="#505050"/>
<path d="M276.5 3.2 V14.8" stroke="#10a010" stroke-width="1.2"/>
<rect x="274.2" y="5.4" width="4.6" height="7.4" fill="url(#gCandle)" stroke="#10a010" stroke-width="1"/>
<path d="M298.6 6 V19 M296 16.6 H308.5" stroke="#505050" stroke-width="1.3" fill="none"/><path d="M298.6 4.6 L300.4 7.4 L296.8 7.4Z M310 16.6 L307.2 14.8 L307.2 18.4Z" fill="#505050"/>
<path d="M297 13.6 C299.5 12.6 301 8.2 303.2 8.2 C305 8.2 306.5 11.8 308.6 12.2" stroke="#309030" stroke-width="1.2" fill="none"/>
<rect x="319" y="1" width="1" height="20" fill="#a0a0a0" shape-rendering="crispEdges"/>
<path d="M337.5 12.6 L343.29999999999995 18" stroke="#a07810" stroke-width="3.6" stroke-linecap="butt"/>
<path d="M337.79999999999995 12.9 L343.0 17.7" stroke="#f0d030" stroke-width="2" stroke-linecap="butt"/>
<circle cx="333.9" cy="9" r="5.4" fill="url(#gLens)" stroke="#2a78c8" stroke-width="1.3"/>
<path d="M330.5 9 H337.29999999999995 M333.9 5.6 V12.4" stroke="#3a88b8" stroke-width="1.7"/>
<path d="M365.6 12.6 L371.4 18" stroke="#a07810" stroke-width="3.6" stroke-linecap="butt"/>
<path d="M365.9 12.9 L371.1 17.7" stroke="#f0d030" stroke-width="2" stroke-linecap="butt"/>
<circle cx="362" cy="9" r="5.4" fill="url(#gLens)" stroke="#2a78c8" stroke-width="1.3"/>
<path d="M358.8 9 H365.2" stroke="#3a88b8" stroke-width="1.7"/>
<rect x="384" y="3" width="8" height="8" fill="url(#gGreenQ)"/>
<rect x="385" y="4" width="1" height="1" fill="#d8e8f8"/>
<path d="M385.3 10 V6.4 H390.7 V10 H389.6 V9 H386.4 V10Z" fill="#fff"/>
<path d="M386.6 7.7 H389.4" stroke="#a0d890" stroke-width="0.8"/>
<rect x="392" y="3" width="8" height="8" fill="url(#gBlueQ)"/>
<rect x="393" y="4" width="1" height="1" fill="#d8e8f8"/>
<path d="M393.3 10 V6.4 H398.7 V10 H397.6 V9 H394.4 V10Z" fill="#fff"/>
<path d="M394.6 7.7 H397.4" stroke="#a0b8f0" stroke-width="0.8"/>
<rect x="384" y="11" width="8" height="8" fill="url(#gBlueQ)"/>
<rect x="385" y="12" width="1" height="1" fill="#d8e8f8"/>
<path d="M385.3 18 V14.4 H390.7 V18 H389.6 V17 H386.4 V18Z" fill="#fff"/>
<path d="M386.6 15.7 H389.4" stroke="#a0b8f0" stroke-width="0.8"/>
<rect x="392" y="11" width="8" height="8" fill="url(#gGreenQ)"/>
<rect x="393" y="12" width="1" height="1" fill="#d8e8f8"/>
<path d="M393.3 18 V14.4 H398.7 V18 H397.6 V17 H394.4 V18Z" fill="#fff"/>
<path d="M394.6 15.7 H397.4" stroke="#a0d890" stroke-width="0.8"/>
<rect x="409" y="1" width="1" height="20" fill="#a0a0a0" shape-rendering="crispEdges"/>
<rect x="414" y="1" width="1" height="20" fill="#a0a0a0" shape-rendering="crispEdges"/>
<rect x="415" y="0" width="24" height="21" fill="url(#chk)" shape-rendering="crispEdges"/>
<path d="M422.6 6 V19 M420 16.6 H432.5" stroke="#505050" stroke-width="1.3" fill="none"/><path d="M422.6 4.6 L424.4 7.4 L420.8 7.4Z M434 16.6 L431.2 14.8 L431.2 18.4Z" fill="#505050"/>
<path d="M427.2 7.4 V13.6 L431 10.5Z" fill="#70e070" stroke="#109010" stroke-width="1"/>
<rect x="442" y="1" width="1" height="20" fill="#a0a0a0" shape-rendering="crispEdges"/>
<rect x="443" y="0" width="24" height="21" fill="url(#chk)" shape-rendering="crispEdges"/>
<path d="M450.6 6 V19 M448 16.6 H460.5" stroke="#505050" stroke-width="1.3" fill="none"/><path d="M450.6 4.6 L452.4 7.4 L448.8 7.4Z M462 16.6 L459.2 14.8 L459.2 18.4Z" fill="#505050"/>
<path d="M456.5 5 V14.8" stroke="#1070b0" stroke-width="1.3"/>
<path d="M457.6 10.5 H461.8 M457.4 10.5 L460 8.4 V12.6Z" stroke="#e05000" stroke-width="0.9" fill="#e05000"/>
<rect x="471" y="1" width="1" height="20" fill="#a0a0a0" shape-rendering="crispEdges"/>
<path d="M481.5 3.5 H489.5 L492.5 6.5 V16.5 H481.5Z" fill="#fafafa" stroke="#909090"/>
<path d="M489.5 3.5 V6.5 H492.5" fill="#e0e0e0" stroke="#909090"/>
<path d="M487 6.2 C485 5.6 484.4 7 484.6 9 L484.4 14 M483.4 9.6 H486.4" stroke="#504030" stroke-width="0.9" fill="none"/>
<path d="M489.3 9.6 L492.7 9.6 L492.7 13.5 L496.6 13.5 L496.6 16.9 L492.7 16.9 L492.7 20.8 L489.3 20.8 L489.3 16.9 L485.4 16.9 L485.4 13.5 L489.3 13.5Z" fill="url(#gPlus)" stroke="#088a10" stroke-width="1"/>
<path d="M502.8 10 h5.6 l-2.8 3Z" fill="#000"/>
<circle cx="527.1" cy="10.9" r="7.9" fill="url(#gClock)"/>
<circle cx="527.1" cy="10.9" r="5.1" fill="#f6f6f6"/>
<circle cx="527.10" cy="6.60" r="0.35" fill="#909090"/>
<circle cx="529.25" cy="7.18" r="0.35" fill="#909090"/>
<circle cx="530.82" cy="8.75" r="0.35" fill="#909090"/>
<circle cx="531.40" cy="10.90" r="0.35" fill="#909090"/>
<circle cx="530.82" cy="13.05" r="0.35" fill="#909090"/>
<circle cx="529.25" cy="14.62" r="0.35" fill="#909090"/>
<circle cx="527.10" cy="15.20" r="0.35" fill="#909090"/>
<circle cx="524.95" cy="14.62" r="0.35" fill="#909090"/>
<circle cx="523.38" cy="13.05" r="0.35" fill="#909090"/>
<circle cx="522.80" cy="10.90" r="0.35" fill="#909090"/>
<circle cx="523.38" cy="8.75" r="0.35" fill="#909090"/>
<circle cx="524.95" cy="7.18" r="0.35" fill="#909090"/>
<path d="M527.1 7.2 V11 H530.4" stroke="#202020" stroke-width="1.1" fill="none"/>
<path d="M541.8 10 h5.6 l-2.8 3Z" fill="#000"/>
<rect x="558.5" y="4.5" width="15" height="13" fill="#fff" stroke="#3070c0"/>
<rect x="559" y="5" width="14" height="1.6" fill="url(#gTpl)"/>
<rect x="559" y="11" width="14" height="1" fill="#4a84cc" shape-rendering="crispEdges"/>
<path d="M560.5 10.2 H562.3 L564.3 8.6 L566 9.4 H568 L570 8.4 H571.6" stroke="#a02000" stroke-width="1" fill="none"/>
<path d="M561 15 L563.4 14.6 L565 15.4 L567.2 13.6 L569 13.2 L571.4 15.4" stroke="#108020" stroke-width="1.1" fill="none"/>
<path d="M580.8 10 h5.6 l-2.8 3Z" fill="#000"/>
<rect x="592" y="0" width="1" height="23" fill="#a0a0a0" shape-rendering="crispEdges"/>
<rect x="596" y="1" width="3" height="1" fill="#a8a8a8" shape-rendering="crispEdges"/><rect x="596" y="3" width="3" height="1" fill="#a8a8a8" shape-rendering="crispEdges"/><rect x="596" y="5" width="3" height="1" fill="#a8a8a8" shape-rendering="crispEdges"/><rect x="596" y="7" width="3" height="1" fill="#a8a8a8" shape-rendering="crispEdges"/><rect x="596" y="9" width="3" height="1" fill="#a8a8a8" shape-rendering="crispEdges"/><rect x="596" y="11" width="3" height="1" fill="#a8a8a8" shape-rendering="crispEdges"/><rect x="596" y="13" width="3" height="1" fill="#a8a8a8" shape-rendering="crispEdges"/><rect x="596" y="15" width="3" height="1" fill="#a8a8a8" shape-rendering="crispEdges"/><rect x="596" y="17" width="3" height="1" fill="#a8a8a8" shape-rendering="crispEdges"/><rect x="596" y="19" width="3" height="1" fill="#a8a8a8" shape-rendering="crispEdges"/>
<rect x="602" y="1" width="1" height="20" fill="#a0a0a0" shape-rendering="crispEdges"/>
<rect x="603" y="0" width="24" height="21" fill="url(#chk)" shape-rendering="crispEdges"/>
<path d="M610 4 V15.4 L612.8 13 L615.2 18 L617 17.2 L614.7 12.3 L618.2 12Z" fill="#484848"/>
<path d="M642.5 4 V19 M635 11.5 H650" stroke="#505050" stroke-width="1" stroke-dasharray="6.6 1.8"/>
<rect x="659" y="1" width="1" height="20" fill="#a0a0a0" shape-rendering="crispEdges"/>
<path d="M676.5 5 V18" stroke="#505050" stroke-width="1.1"/>
<path d="M699 11.5 H711" stroke="#505050" stroke-width="1.1"/>
<path d="M727 18 L739 5.8" stroke="#585858" stroke-width="1"/>
<path d="M753 13.4 L761 5.4 M754.6 17.4 L766.4 8.6 M757 18 L765 11" stroke="#484848" stroke-width="1"/>
<path d="M756.5 10 L755.5 16.6 M759.5 8 L758.2 15.4 M762.4 5.5 L761 13.6 M765 3 L764.4 10" stroke="#484848" stroke-width="0.9"/>
<path d="M767.6 15.3 H764.4 V19.4 H767.8 M764.4 17.3 H767.2" stroke="#383838" stroke-width="1.1" fill="none"/>
<path d="M782 4.7 H795.2" stroke="#484848" stroke-width="1" stroke-dasharray="1 1"/>
<path d="M782 7.4 H795.2" stroke="#484848" stroke-width="1" stroke-dasharray="1 1"/>
<path d="M782 11.5 H795.2" stroke="#484848" stroke-width="1" stroke-dasharray="1 1"/>
<path d="M782 15.4 H791" stroke="#484848" stroke-width="1" stroke-dasharray="1 1"/>
<path d="M795.6 15.3 H792.4 V19.8 M792.4 17.4 H795" stroke="#383838" stroke-width="1.1" fill="none"/>
<path d="M813.2 15.6 L816.6 7.2 L820 15.6 M814.5 12.8 H818.7" stroke="#484848" stroke-width="1.45" fill="none"/>
<rect x="839.5" y="5.5" width="11.5" height="12" fill="none" stroke="#505050" stroke-width="1" stroke-dasharray="1 1" shape-rendering="crispEdges"/>
<path d="M841.2 8.7 H848.8 M845 8.6 V15.8" stroke="#484848" stroke-width="1.8" fill="none"/>
<path d="M866 8.8 L869.5 5 L873 8.8 L869.5 10.2Z M873 15 L876.4 13.2 L880 15 L876.4 18Z" fill="#484848"/>
<path d="M867.4 12.6 L870.5 14.6 L874.8 9.2" stroke="#484848" stroke-width="1.2" fill="none"/>
<path d="M886.6 10 h5.6 l-2.8 3Z" fill="#000"/>
<rect x="898" y="0" width="1" height="23" fill="#a0a0a0" shape-rendering="crispEdges"/>
<rect x="902" y="1" width="3" height="1" fill="#a8a8a8" shape-rendering="crispEdges"/><rect x="902" y="3" width="3" height="1" fill="#a8a8a8" shape-rendering="crispEdges"/><rect x="902" y="5" width="3" height="1" fill="#a8a8a8" shape-rendering="crispEdges"/><rect x="902" y="7" width="3" height="1" fill="#a8a8a8" shape-rendering="crispEdges"/><rect x="902" y="9" width="3" height="1" fill="#a8a8a8" shape-rendering="crispEdges"/><rect x="902" y="11" width="3" height="1" fill="#a8a8a8" shape-rendering="crispEdges"/><rect x="902" y="13" width="3" height="1" fill="#a8a8a8" shape-rendering="crispEdges"/><rect x="902" y="15" width="3" height="1" fill="#a8a8a8" shape-rendering="crispEdges"/><rect x="902" y="17" width="3" height="1" fill="#a8a8a8" shape-rendering="crispEdges"/><rect x="902" y="19" width="3" height="1" fill="#a8a8a8" shape-rendering="crispEdges"/>
<rect x="1048" y="1" width="1" height="20" fill="#a0a0a0" shape-rendering="crispEdges"/>
<rect x="1049" y="0" width="24" height="21" fill="url(#chk)" shape-rendering="crispEdges"/>
<rect x="1159" y="0" width="1" height="23" fill="#a0a0a0" shape-rendering="crispEdges"/>
<path d="M1621.6 16.4 L1626.4 11.6" stroke="#2060d0" stroke-width="2.6" stroke-linecap="round"/>
<circle cx="1629.6" cy="8.4" r="3.9" fill="#f4f8ff" stroke="#2868d8" stroke-width="1.4"/>
<path d="M1655.8 7.6 C1655.8 2.4 1668.6 2.4 1668.6 7.6 C1668.6 10.4 1666 11.8 1664.8 12 L1665.8 14.6 L1662.4 12.2 C1658 12.4 1655.8 10.4 1655.8 7.6Z" fill="#eef0f6" stroke="#9c9c9c" stroke-width="1"/>
<path d="M1648.2 12.4 C1648.2 7.8 1658.2 7.8 1658.2 12.4 C1658.2 15.6 1654.6 16 1652.6 15.8 L1650.6 17.8 L1650.8 15.4 C1649 14.8 1648.2 13.8 1648.2 12.4Z" fill="#f2f3f8" stroke="#949494" stroke-width="1"/>
<g shape-rendering="crispEdges">
<linearGradient id="gP" gradientUnits="userSpaceOnUse" x1="0" y1="47" x2="0" y2="111"><stop offset="0" stop-color="#5858ff"/><stop offset="0.36" stop-color="#3c36e6"/><stop offset="1" stop-color="#0000a8"/></linearGradient>
<path d="M2.5 47.5 H53.5 V71.5 H110.5 V110.5 H2.5Z" fill="url(#gP)" stroke="#0000c0"/>
<path d="M169.5 47.5 H220.5 V110.5 H113.5 V71.5 H169.5Z" fill="url(#gP)" stroke="#0000c0"/>
<rect x="6" y="70" width="44" height="1" fill="#1818b8"/><rect x="6" y="71" width="44" height="1" fill="#7c7cff"/>
<rect x="173" y="70" width="44" height="1" fill="#1818b8"/><rect x="173" y="71" width="44" height="1" fill="#7c7cff"/>
<rect x="56.5" y="47.5" width="110" height="21" fill="#fff" stroke="#adadad"/>
<rect x="57" y="48" width="20" height="20" fill="url(#gBtn)"/><rect x="77" y="48" width="1" height="20" fill="#adadad"/>
<rect x="146" y="48" width="20" height="20" fill="url(#gBtn)"/><rect x="145" y="48" width="1" height="20" fill="#adadad"/>
</g>
<path d="M63.6 56.2 h5.4 l-2.7 3Z" fill="#000"/>
<path d="M153.2 59.2 h5.4 l-2.7 -3Z" fill="#000"/>
<text transform="translate(14.60,62.88) scale(0.852,1)" font-family="Liberation Sans, sans-serif" text-rendering="geometricPrecision" font-size="12.29" fill="#fff" >SELL</text>
<text transform="translate(182.50,62.88) scale(0.878,1)" font-family="Liberation Sans, sans-serif" text-rendering="geometricPrecision" font-size="12.46" fill="#fff" >BUY</text>
<text transform="translate(119.20,61.78) scale(0.963,1)" font-family="Liberation Sans, sans-serif" text-rendering="geometricPrecision" font-size="12.01" fill="#000" >1.00</text>
<text transform="translate(25.80,101.77) scale(0.992,1)" font-family="Liberation Sans, sans-serif" text-rendering="geometricPrecision" font-size="12.27" font-weight="bold" fill="#fff" >135</text>
<text transform="translate(50.10,101.96) scale(0.899,1)" font-family="Liberation Sans, sans-serif" text-rendering="geometricPrecision" font-size="33.90" fill="#fff" >97</text>
<text transform="translate(89.50,86.00) scale(0.990,1)" font-family="Liberation Sans, sans-serif" text-rendering="geometricPrecision" font-size="12.18" font-weight="bold" fill="#fff" >2</text>
<text transform="translate(135.50,101.77) scale(1.002,1)" font-family="Liberation Sans, sans-serif" text-rendering="geometricPrecision" font-size="12.27" font-weight="bold" fill="#fff" >136</text>
<text transform="translate(160.70,101.96) scale(0.796,1)" font-family="Liberation Sans, sans-serif" text-rendering="geometricPrecision" font-size="33.90" fill="#fff" >01</text>
<text transform="translate(200.90,85.87) scale(0.915,1)" font-family="Liberation Sans, sans-serif" text-rendering="geometricPrecision" font-size="11.99" font-weight="bold" fill="#fff" >3</text>
<path d="M2 38.3 L9.4 38.3 L5.7 33.7 Z" fill="#000"/>
<text transform="translate(13.60,39.00) scale(0.909,1)" font-family="Liberation Sans, sans-serif" text-rendering="geometricPrecision" font-size="10.17" fill="#000"  stroke="#000" stroke-width="0.22">GBPJPY-,H4</text>
<text transform="translate(73.50,39.00) scale(0.904,1)" font-family="Liberation Sans, sans-serif" text-rendering="geometricPrecision" font-size="10.17" fill="#000"  stroke="#000" stroke-width="0.22">135.986 136.034 135.870 135.972</text>
<text transform="translate(1633.40,35.00) scale(0.881,1)" font-family="Liberation Sans, sans-serif" text-rendering="geometricPrecision" font-size="10.17" fill="#000"  stroke="#000" stroke-width="0.22">138.445</text>
<text transform="translate(1633.40,68.00) scale(0.881,1)" font-family="Liberation Sans, sans-serif" text-rendering="geometricPrecision" font-size="10.17" fill="#000"  stroke="#000" stroke-width="0.22">138.250</text>
<text transform="translate(1633.40,101.00) scale(0.881,1)" font-family="Liberation Sans, sans-serif" text-rendering="geometricPrecision" font-size="10.17" fill="#000"  stroke="#000" stroke-width="0.22">138.050</text>
<text transform="translate(1633.40,134.00) scale(0.881,1)" font-family="Liberation Sans, sans-serif" text-rendering="geometricPrecision" font-size="10.17" fill="#000"  stroke="#000" stroke-width="0.22">137.855</text>
<text transform="translate(1633.40,167.00) scale(0.881,1)" font-family="Liberation Sans, sans-serif" text-rendering="geometricPrecision" font-size="10.17" fill="#000"  stroke="#000" stroke-width="0.22">137.660</text>
<text transform="translate(1633.40,200.00) scale(0.881,1)" font-family="Liberation Sans, sans-serif" text-rendering="geometricPrecision" font-size="10.17" fill="#000"  stroke="#000" stroke-width="0.22">137.465</text>
<text transform="translate(1633.40,233.00) scale(0.881,1)" font-family="Liberation Sans, sans-serif" text-rendering="geometricPrecision" font-size="10.17" fill="#000"  stroke="#000" stroke-width="0.22">137.265</text>
<text transform="translate(1633.40,266.00) scale(0.881,1)" font-family="Liberation Sans, sans-serif" text-rendering="geometricPrecision" font-size="10.17" fill="#000"  stroke="#000" stroke-width="0.22">137.070</text>
<text transform="translate(1633.40,299.00) scale(0.881,1)" font-family="Liberation Sans, sans-serif" text-rendering="geometricPrecision" font-size="10.17" fill="#000"  stroke="#000" stroke-width="0.22">136.875</text>
<text transform="translate(1633.40,332.00) scale(0.881,1)" font-family="Liberation Sans, sans-serif" text-rendering="geometricPrecision" font-size="10.17" fill="#000"  stroke="#000" stroke-width="0.22">136.680</text>
<text transform="translate(1633.40,365.00) scale(0.881,1)" font-family="Liberation Sans, sans-serif" text-rendering="geometricPrecision" font-size="10.17" fill="#000"  stroke="#000" stroke-width="0.22">136.485</text>
<text transform="translate(1633.40,398.00) scale(0.881,1)" font-family="Liberation Sans, sans-serif" text-rendering="geometricPrecision" font-size="10.17" fill="#000"  stroke="#000" stroke-width="0.22">136.285</text>
<text transform="translate(1633.40,431.00) scale(0.881,1)" font-family="Liberation Sans, sans-serif" text-rendering="geometricPrecision" font-size="10.17" fill="#000"  stroke="#000" stroke-width="0.22">136.090</text>
<text transform="translate(1633.40,464.00) scale(0.881,1)" font-family="Liberation Sans, sans-serif" text-rendering="geometricPrecision" font-size="10.17" fill="#000"  stroke="#000" stroke-width="0.22">135.895</text>
<text transform="translate(1633.40,497.00) scale(0.881,1)" font-family="Liberation Sans, sans-serif" text-rendering="geometricPrecision" font-size="10.17" fill="#000"  stroke="#000" stroke-width="0.22">135.695</text>
<text transform="translate(1633.40,530.00) scale(0.881,1)" font-family="Liberation Sans, sans-serif" text-rendering="geometricPrecision" font-size="10.17" fill="#000"  stroke="#000" stroke-width="0.22">135.500</text>
<text transform="translate(1633.40,563.00) scale(0.881,1)" font-family="Liberation Sans, sans-serif" text-rendering="geometricPrecision" font-size="10.17" fill="#000"  stroke="#000" stroke-width="0.22">135.305</text>
<rect x="1629" y="354" width="41" height="10" fill="#ff4500" shape-rendering="crispEdges"/>
<text transform="translate(1633.40,363.00) scale(0.881,1)" font-family="Liberation Sans, sans-serif" text-rendering="geometricPrecision" font-size="10.17" fill="#fff"  stroke="#fff" stroke-width="0.22">136.495</text>
<rect x="1629" y="385" width="41" height="10" fill="#ff0000" shape-rendering="crispEdges"/>
<text transform="translate(1633.40,394.00) scale(0.881,1)" font-family="Liberation Sans, sans-serif" text-rendering="geometricPrecision" font-size="10.17" fill="#fff"  stroke="#fff" stroke-width="0.22">136.311</text>
<rect x="1629" y="410" width="41" height="10" fill="#32cd32" shape-rendering="crispEdges"/>
<text transform="translate(1633.40,419.00) scale(0.881,1)" font-family="Liberation Sans, sans-serif" text-rendering="geometricPrecision" font-size="10.17" fill="#fff"  stroke="#fff" stroke-width="0.22">136.163</text>
<rect x="1629" y="442" width="41" height="10" fill="#000" shape-rendering="crispEdges"/>
<text transform="translate(1633.40,451.00) scale(0.881,1)" font-family="Liberation Sans, sans-serif" text-rendering="geometricPrecision" font-size="10.17" fill="#fff"  stroke="#fff" stroke-width="0.22">135.972</text>
<rect x="1629" y="471" width="41" height="10" fill="#0000ff" shape-rendering="crispEdges"/>
<text transform="translate(1633.40,480.00) scale(0.881,1)" font-family="Liberation Sans, sans-serif" text-rendering="geometricPrecision" font-size="10.17" fill="#fff"  stroke="#fff" stroke-width="0.22">135.801</text>
<rect x="1629" y="501" width="41" height="10" fill="#0000ff" shape-rendering="crispEdges"/>
<text transform="translate(1633.40,510.00) scale(0.881,1)" font-family="Liberation Sans, sans-serif" text-rendering="geometricPrecision" font-size="10.17" fill="#fff"  stroke="#fff" stroke-width="0.22">135.622</text>
<text transform="translate(1631.30,575.00) scale(0.881,1)" font-family="Liberation Sans, sans-serif" text-rendering="geometricPrecision" font-size="10.17" fill="#000"  stroke="#000" stroke-width="0.22">0.1683</text>
<text transform="translate(1631.30,618.00) scale(0.881,1)" font-family="Liberation Sans, sans-serif" text-rendering="geometricPrecision" font-size="10.17" fill="#000"  stroke="#000" stroke-width="0.22">0.00</text>
<text transform="translate(1631.30,762.00) scale(0.881,1)" font-family="Liberation Sans, sans-serif" text-rendering="geometricPrecision" font-size="10.17" fill="#000"  stroke="#000" stroke-width="0.22">-0.5178</text>
<text transform="translate(1631.30,778.00) scale(0.881,1)" font-family="Liberation Sans, sans-serif" text-rendering="geometricPrecision" font-size="10.17" fill="#000"  stroke="#000" stroke-width="0.22">100</text>
<text transform="translate(1631.30,804.00) scale(0.881,1)" font-family="Liberation Sans, sans-serif" text-rendering="geometricPrecision" font-size="10.17" fill="#000"  stroke="#000" stroke-width="0.22">80</text>
<text transform="translate(1631.30,851.00) scale(0.881,1)" font-family="Liberation Sans, sans-serif" text-rendering="geometricPrecision" font-size="10.17" fill="#000"  stroke="#000" stroke-width="0.22">50</text>
<text transform="translate(1631.30,907.00) scale(0.881,1)" font-family="Liberation Sans, sans-serif" text-rendering="geometricPrecision" font-size="10.17" fill="#000"  stroke="#000" stroke-width="0.22">15</text>
<text transform="translate(1631.30,924.00) scale(0.881,1)" font-family="Liberation Sans, sans-serif" text-rendering="geometricPrecision" font-size="10.17" fill="#000"  stroke="#000" stroke-width="0.22">0</text>
<text transform="translate(3.30,577.00) scale(0.918,1)" font-family="Liberation Sans, sans-serif" text-rendering="geometricPrecision" font-size="10.17" fill="#000"  stroke="#000" stroke-width="0.22">MACD(12,26,9) -0.1220 -0.0181</text>
<text transform="translate(3.30,780.00) scale(0.907,1)" font-family="Liberation Sans, sans-serif" text-rendering="geometricPrecision" font-size="10.17" fill="#000"  stroke="#000" stroke-width="0.22">RSI(14) 40.2686</text>
<text transform="translate(-1.60,940.00) scale(0.892,1)" font-family="Liberation Sans, sans-serif" text-rendering="geometricPrecision" font-size="10.17" fill="#000"  stroke="#000" stroke-width="0.22">5 Jun 2019</text>
<text transform="translate(62.40,940.00) scale(0.892,1)" font-family="Liberation Sans, sans-serif" text-rendering="geometricPrecision" font-size="10.17" fill="#000"  stroke="#000" stroke-width="0.22">5 Jun 20:00</text>
<text transform="translate(126.40,940.00) scale(0.892,1)" font-family="Liberation Sans, sans-serif" text-rendering="geometricPrecision" font-size="10.17" fill="#000"  stroke="#000" stroke-width="0.22">6 Jun 12:00</text>
<text transform="translate(190.40,940.00) scale(0.892,1)" font-family="Liberation Sans, sans-serif" text-rendering="geometricPrecision" font-size="10.17" fill="#000"  stroke="#000" stroke-width="0.22">7 Jun 04:00</text>
<text transform="translate(254.40,940.00) scale(0.892,1)" font-family="Liberation Sans, sans-serif" text-rendering="geometricPrecision" font-size="10.17" fill="#000"  stroke="#000" stroke-width="0.22">9 Jun 23:00</text>
<text transform="translate(319.00,940.00) scale(0.892,1)" font-family="Liberation Sans, sans-serif" text-rendering="geometricPrecision" font-size="10.17" fill="#000"  stroke="#000" stroke-width="0.22">10 Jun 12:00</text>
<text transform="translate(383.00,940.00) scale(0.892,1)" font-family="Liberation Sans, sans-serif" text-rendering="geometricPrecision" font-size="10.17" fill="#000"  stroke="#000" stroke-width="0.22">11 Jun 04:00</text>
<text transform="translate(447.00,940.00) scale(0.892,1)" font-family="Liberation Sans, sans-serif" text-rendering="geometricPrecision" font-size="10.17" fill="#000"  stroke="#000" stroke-width="0.22">11 Jun 20:00</text>
<text transform="translate(511.00,940.00) scale(0.892,1)" font-family="Liberation Sans, sans-serif" text-rendering="geometricPrecision" font-size="10.17" fill="#000"  stroke="#000" stroke-width="0.22">12 Jun 12:00</text>
<text transform="translate(575.00,940.00) scale(0.892,1)" font-family="Liberation Sans, sans-serif" text-rendering="geometricPrecision" font-size="10.17" fill="#000"  stroke="#000" stroke-width="0.22">13 Jun 04:00</text>
<text transform="translate(639.00,940.00) scale(0.892,1)" font-family="Liberation Sans, sans-serif" text-rendering="geometricPrecision" font-size="10.17" fill="#000"  stroke="#000" stroke-width="0.22">13 Jun 20:00</text>
<text transform="translate(703.00,940.00) scale(0.892,1)" font-family="Liberation Sans, sans-serif" text-rendering="geometricPrecision" font-size="10.17" fill="#000"  stroke="#000" stroke-width="0.22">14 Jun 12:00</text>
<text transform="translate(767.00,940.00) scale(0.892,1)" font-family="Liberation Sans, sans-serif" text-rendering="geometricPrecision" font-size="10.17" fill="#000"  stroke="#000" stroke-width="0.22">17 Jun 04:00</text>
<text transform="translate(831.00,940.00) scale(0.892,1)" font-family="Liberation Sans, sans-serif" text-rendering="geometricPrecision" font-size="10.17" fill="#000"  stroke="#000" stroke-width="0.22">17 Jun 20:00</text>
<text transform="translate(895.00,940.00) scale(0.892,1)" font-family="Liberation Sans, sans-serif" text-rendering="geometricPrecision" font-size="10.17" fill="#000"  stroke="#000" stroke-width="0.22">18 Jun 12:00</text>
<text transform="translate(959.00,940.00) scale(0.892,1)" font-family="Liberation Sans, sans-serif" text-rendering="geometricPrecision" font-size="10.17" fill="#000"  stroke="#000" stroke-width="0.22">19 Jun 04:00</text>
<text transform="translate(1023.00,940.00) scale(0.892,1)" font-family="Liberation Sans, sans-serif" text-rendering="geometricPrecision" font-size="10.17" fill="#000"  stroke="#000" stroke-width="0.22">19 Jun 20:00</text>
<text transform="translate(1086.40,940.00) scale(0.892,1)" font-family="Liberation Sans, sans-serif" text-rendering="geometricPrecision" font-size="10.17" fill="#000"  stroke="#000" stroke-width="0.22">20 Jun 12:00</text>
<text transform="translate(1150.40,940.00) scale(0.892,1)" font-family="Liberation Sans, sans-serif" text-rendering="geometricPrecision" font-size="10.17" fill="#000"  stroke="#000" stroke-width="0.22">21 Jun 04:00</text>
<text transform="translate(1214.40,940.00) scale(0.892,1)" font-family="Liberation Sans, sans-serif" text-rendering="geometricPrecision" font-size="10.17" fill="#000"  stroke="#000" stroke-width="0.22">23 Jun 23:00</text>
<text transform="translate(1278.40,940.00) scale(0.892,1)" font-family="Liberation Sans, sans-serif" text-rendering="geometricPrecision" font-size="10.17" fill="#000"  stroke="#000" stroke-width="0.22">24 Jun 12:00</text>
<text transform="translate(1342.40,940.00) scale(0.892,1)" font-family="Liberation Sans, sans-serif" text-rendering="geometricPrecision" font-size="10.17" fill="#000"  stroke="#000" stroke-width="0.22">25 Jun 04:00</text>
<text transform="translate(1406.40,940.00) scale(0.892,1)" font-family="Liberation Sans, sans-serif" text-rendering="geometricPrecision" font-size="10.17" fill="#000"  stroke="#000" stroke-width="0.22">25 Jun 20:00</text>
<text transform="translate(1468.90,423.58) scale(0.879,1)" font-family="Liberation Sans, sans-serif" text-rendering="geometricPrecision" font-size="21.61" fill="#ff0000" stroke="#ff0000" stroke-width="0.45">136.163</text>
<text transform="translate(913.60,15.00) scale(0.892,1)" font-family="Liberation Sans, sans-serif" text-rendering="geometricPrecision" font-size="10.17" fill="#3c3c3c" stroke="none">M1</text>
<text transform="translate(941.90,15.00) scale(0.864,1)" font-family="Liberation Sans, sans-serif" text-rendering="geometricPrecision" font-size="10.17" fill="#3c3c3c" stroke="none">M5</text>
<text transform="translate(967.70,15.00) scale(0.890,1)" font-family="Liberation Sans, sans-serif" text-rendering="geometricPrecision" font-size="10.17" fill="#3c3c3c" stroke="none">M15</text>
<text transform="translate(995.70,15.00) scale(0.890,1)" font-family="Liberation Sans, sans-serif" text-rendering="geometricPrecision" font-size="10.17" fill="#3c3c3c" stroke="none">M30</text>
<text transform="translate(1026.70,15.00) scale(0.885,1)" font-family="Liberation Sans, sans-serif" text-rendering="geometricPrecision" font-size="10.17" fill="#3c3c3c" stroke="none">H1</text>
<text transform="translate(1053.80,15.00) scale(0.923,1)" font-family="Liberation Sans, sans-serif" text-rendering="geometricPrecision" font-size="10.17" fill="#3c3c3c" stroke="none">H4</text>
<text transform="translate(1082.80,15.00) scale(0.885,1)" font-family="Liberation Sans, sans-serif" text-rendering="geometricPrecision" font-size="10.17" fill="#3c3c3c" stroke="none">D1</text>
<text transform="translate(1110.20,15.00) scale(0.918,1)" font-family="Liberation Sans, sans-serif" text-rendering="geometricPrecision" font-size="10.17" fill="#3c3c3c" stroke="none">W1</text>
<text transform="translate(1136.80,15.00) scale(0.898,1)" font-family="Liberation Sans, sans-serif" text-rendering="geometricPrecision" font-size="10.17" fill="#3c3c3c" stroke="none">MN</text>
</svg>
</body></html>
